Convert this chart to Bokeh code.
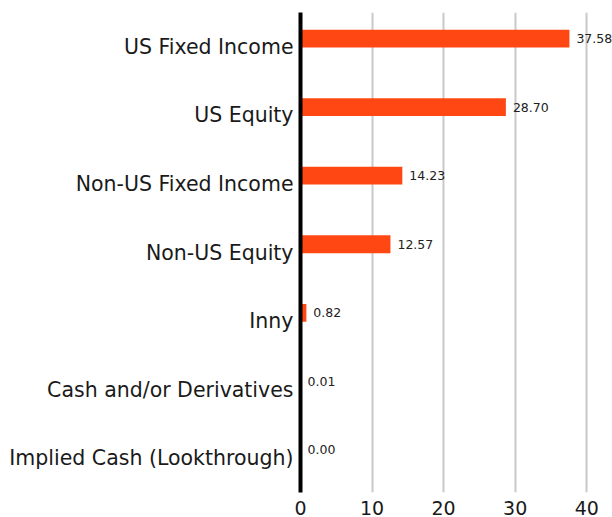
from bokeh.plotting import figure
from bokeh.models import ColumnDataSource, FactorRange
from bokeh.transform import dodge
from bokeh.core.properties import value
from bokeh.embed import file_html
from bokeh.resources import INLINE

categories = ["US Fixed Income", "US Equity", "Non-US Fixed Income", "Non-US Equity",
              "Inny", "Cash and/or Derivatives", "Implied Cash (Lookthrough)"]
values = [37.58, 28.70, 14.23, 12.57, 0.82, 0.01, 0.00]
labels = ["%.2f" % v for v in values]

FONT = "DejaVu Sans"
src = ColumnDataSource(dict(cat=categories, val=values, lab=labels))

p = figure(width=612, height=517, output_backend="svg", toolbar_location=None,
           y_range=FactorRange(*list(reversed(categories))), x_range=(0, 43.6),
           min_border_left=300, min_border_right=0, min_border_top=12, min_border_bottom=23)
p.outline_line_color = None
p.hbar(y=dodge("cat", 0.12, range=p.y_range), right="val", left=0, height=0.26,
       source=src, color="#ff4713", line_color=None)
p.text(x="val", y=dodge("cat", 0.12, range=p.y_range), text="lab", source=src,
       x_offset=7, text_baseline="middle", text_align="left", text_font_size="12.5px",
       text_font=value(FONT), text_color="#222222")

p.xgrid.grid_line_color = "#c8c8c8"
p.xgrid.grid_line_width = 2
p.ygrid.grid_line_color = None
p.xaxis.ticker = [0, 10, 20, 30, 40]
p.xaxis.axis_line_color = None
p.xaxis.major_tick_line_color = None
p.xaxis.minor_tick_line_color = None
p.xaxis.major_label_text_font = FONT
p.xaxis.major_label_text_font_size = "19px"
p.xaxis.major_label_text_color = "#1a1a1a"
p.xaxis.major_label_standoff = 2

p.yaxis.axis_line_color = "black"
p.yaxis.axis_line_width = 4
p.yaxis.major_tick_line_color = None
p.yaxis.minor_tick_line_color = None
p.yaxis.major_label_text_font = FONT
p.yaxis.major_label_text_font_size = "20.5px"
p.yaxis.major_label_text_color = "#1a1a1a"
p.yaxis.major_label_standoff = 1

open("out.html", "w").write(file_html(p, INLINE))
